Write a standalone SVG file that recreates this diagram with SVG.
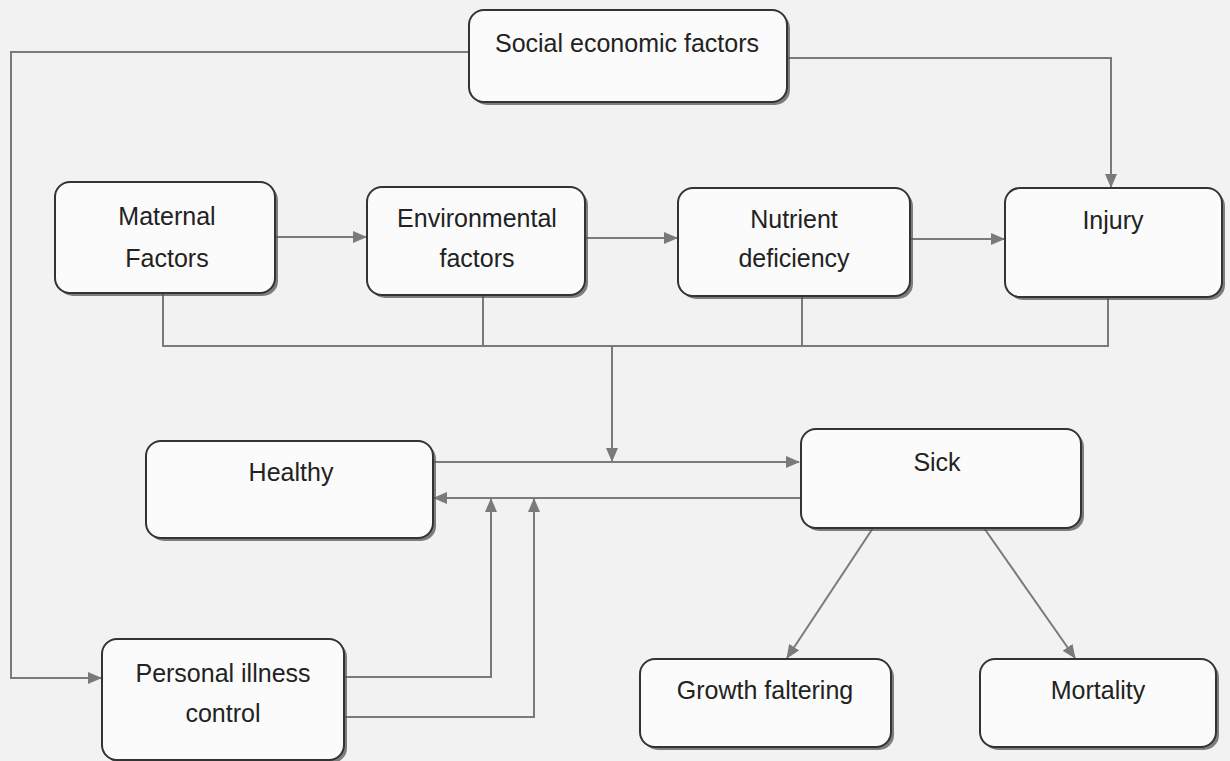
<svg xmlns="http://www.w3.org/2000/svg" width="1230" height="761" viewBox="0 0 1230 761">
<style>
.bg{fill:#f2f2f2}
.sh{fill:#555;opacity:0.75}
.box{fill:#fbfbfb;stroke:#333;stroke-width:2}
.t{font-family:"Liberation Sans",Arial,sans-serif;font-size:25px;fill:#222;text-anchor:middle}
.c{fill:none;stroke:#7a7a7a;stroke-width:2}
</style>
<defs>
<marker id="ah" markerUnits="userSpaceOnUse" markerWidth="14" markerHeight="12" refX="13" refY="6" orient="auto">
<path d="M0,0 L14,6 L0,12 z" fill="#7a7a7a"/>
</marker>
</defs>
<rect class="bg" x="0" y="0" width="1230" height="761"/>
<g id="connectors">
<path class="c" d="M469,52 H11 V678 H101" marker-end="url(#ah)"/>
<path class="c" d="M787,58 H1111 V187" marker-end="url(#ah)"/>
<path class="c" d="M275,237 H366" marker-end="url(#ah)"/>
<path class="c" d="M585,238 H677" marker-end="url(#ah)"/>
<path class="c" d="M910,239 H1004" marker-end="url(#ah)"/>
<path class="c" d="M163,293 V346 H1108 V297"/>
<path class="c" d="M483,295 V346"/>
<path class="c" d="M802,296 V346"/>
<path class="c" d="M612,346 V461" marker-end="url(#ah)"/>
<path class="c" d="M433,462 H799" marker-end="url(#ah)"/>
<path class="c" d="M800,498 H434" marker-end="url(#ah)"/>
<path class="c" d="M344,677 H491 V499" marker-end="url(#ah)"/>
<path class="c" d="M344,717 H534 V499" marker-end="url(#ah)"/>
<path class="c" d="M873,528 L787,658" marker-end="url(#ah)"/>
<path class="c" d="M984,528 L1075,658" marker-end="url(#ah)"/>
</g>
<g id="social">
<rect class="sh" x="472" y="13" width="318" height="92" rx="15"/>
<rect class="box" x="469" y="10" width="318" height="92" rx="15"/>
<text class="t" x="627" y="52">Social economic factors</text>
</g>
<g id="maternal">
<rect class="sh" x="58" y="185" width="220" height="111" rx="15"/>
<rect class="box" x="55" y="182" width="220" height="111" rx="15"/>
<text class="t" x="167" y="225">Maternal</text>
<text class="t" x="167" y="267">Factors</text>
</g>
<g id="environmental">
<rect class="sh" x="370" y="190" width="218" height="108" rx="15"/>
<rect class="box" x="367" y="187" width="218" height="108" rx="15"/>
<text class="t" x="477" y="227">Environmental</text>
<text class="t" x="477" y="267">factors</text>
</g>
<g id="nutrient">
<rect class="sh" x="681" y="191" width="232" height="108" rx="15"/>
<rect class="box" x="678" y="188" width="232" height="108" rx="15"/>
<text class="t" x="794" y="228">Nutrient</text>
<text class="t" x="794" y="267">deficiency</text>
</g>
<g id="injury">
<rect class="sh" x="1008" y="191" width="217" height="109" rx="15"/>
<rect class="box" x="1005" y="188" width="217" height="109" rx="15"/>
<text class="t" x="1113" y="229">Injury</text>
</g>
<g id="healthy">
<rect class="sh" x="149" y="444" width="287" height="97" rx="15"/>
<rect class="box" x="146" y="441" width="287" height="97" rx="15"/>
<text class="t" x="291" y="481">Healthy</text>
</g>
<g id="sick">
<rect class="sh" x="804" y="432" width="280" height="99" rx="15"/>
<rect class="box" x="801" y="429" width="280" height="99" rx="15"/>
<text class="t" x="937" y="471">Sick</text>
</g>
<g id="personal">
<rect class="sh" x="105" y="642" width="242" height="121" rx="15"/>
<rect class="box" x="102" y="639" width="242" height="121" rx="15"/>
<text class="t" x="223" y="682">Personal illness</text>
<text class="t" x="223" y="722">control</text>
</g>
<g id="growth">
<rect class="sh" x="643" y="662" width="251" height="88" rx="15"/>
<rect class="box" x="640" y="659" width="251" height="88" rx="15"/>
<text class="t" x="765" y="699">Growth faltering</text>
</g>
<g id="mortality">
<rect class="sh" x="983" y="662" width="236" height="88" rx="15"/>
<rect class="box" x="980" y="659" width="236" height="88" rx="15"/>
<text class="t" x="1098" y="699">Mortality</text>
</g>
</svg>
